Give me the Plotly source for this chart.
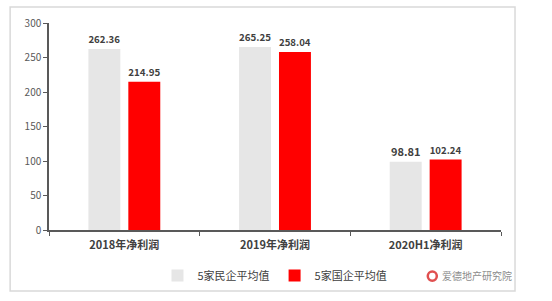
import plotly.graph_objects as go

categories = ["2018年净利润", "2019年净利润", "2020H1净利润"]
private_avg = [262.36, 265.25, 98.81]
state_avg = [214.95, 258.04, 102.24]
series_names = ["5家民企平均值", "5家国企平均值"]
y_ticks = [0, 50, 100, 150, 200, 250, 300]

FONT = "Noto Sans CJK SC"

fig = go.Figure()
fig.add_trace(go.Bar(
    x=categories, y=private_avg, name=series_names[0],
    marker=dict(color="#e6e6e6", line=dict(width=0)),
    text=[f"{v:.2f}" for v in private_avg], textposition="outside",
    textfont=dict(family=FONT, size=11, color="#404040"),
    texttemplate="<b>%{text}</b>", cliponaxis=False,
))
fig.add_trace(go.Bar(
    x=categories, y=state_avg, name=series_names[1],
    marker=dict(color="#ff0000", line=dict(width=0)),
    text=[f"{v:.2f}" for v in state_avg], textposition="outside",
    textfont=dict(family=FONT, size=11, color="#404040"),
    texttemplate="<b>%{text}</b>", cliponaxis=False,
))

fig.update_layout(
    width=552, height=301,
    margin=dict(l=49, r=51, t=23, b=71, autoexpand=False),
    paper_bgcolor="white", plot_bgcolor="white",
    barmode="group", bargap=0.47, bargroupgap=0.2,
    font=dict(family=FONT, size=10, color="#595959"),
    showlegend=True,
    legend=dict(orientation="h", x=0.24, xanchor="left", y=-0.15, yanchor="top",
                font=dict(family=FONT, size=11, color="#404040"),
                itemwidth=30, tracegroupgap=0),
    xaxis=dict(type="category", showline=True, linecolor="#595959", linewidth=1.5,
               ticks="outside", tickson="boundaries", ticklen=4, tickcolor="#595959",
               tickfont=dict(family=FONT, size=11, color="#404040"),
               ticklabelstandoff=4,
               tickprefix="<b>", ticksuffix="</b>", automargin=False),
    yaxis=dict(range=[0, 300], tickvals=y_ticks, showline=True, linecolor="#595959",
               linewidth=1.5, ticks="outside", ticklen=4, tickcolor="#595959",
               showgrid=False, zeroline=False, automargin=False,
               tickfont=dict(family=FONT, size=10, color="#595959")),
)

# outer frame
fig.add_shape(type="rect", xref="paper", yref="paper",
              x0=-0.086, x1=1.031, y0=-0.295, y1=1.077,
              line=dict(color="#d9d9d9", width=1.5), layer="below")

# watermark logo
fig.add_shape(type="circle", xref="paper", yref="paper",
              x0=0.838, x1=0.858, y0=-0.245, y1=-0.2,
              line=dict(color="#e05050", width=2.5))
fig.add_annotation(text="爱德地产研究院", xref="paper", yref="paper",
                   x=0.865, y=-0.222, xanchor="left", yanchor="middle",
                   showarrow=False, font=dict(family=FONT, size=10, color="#8c8c8c"))

fig.write_html("out.html")
